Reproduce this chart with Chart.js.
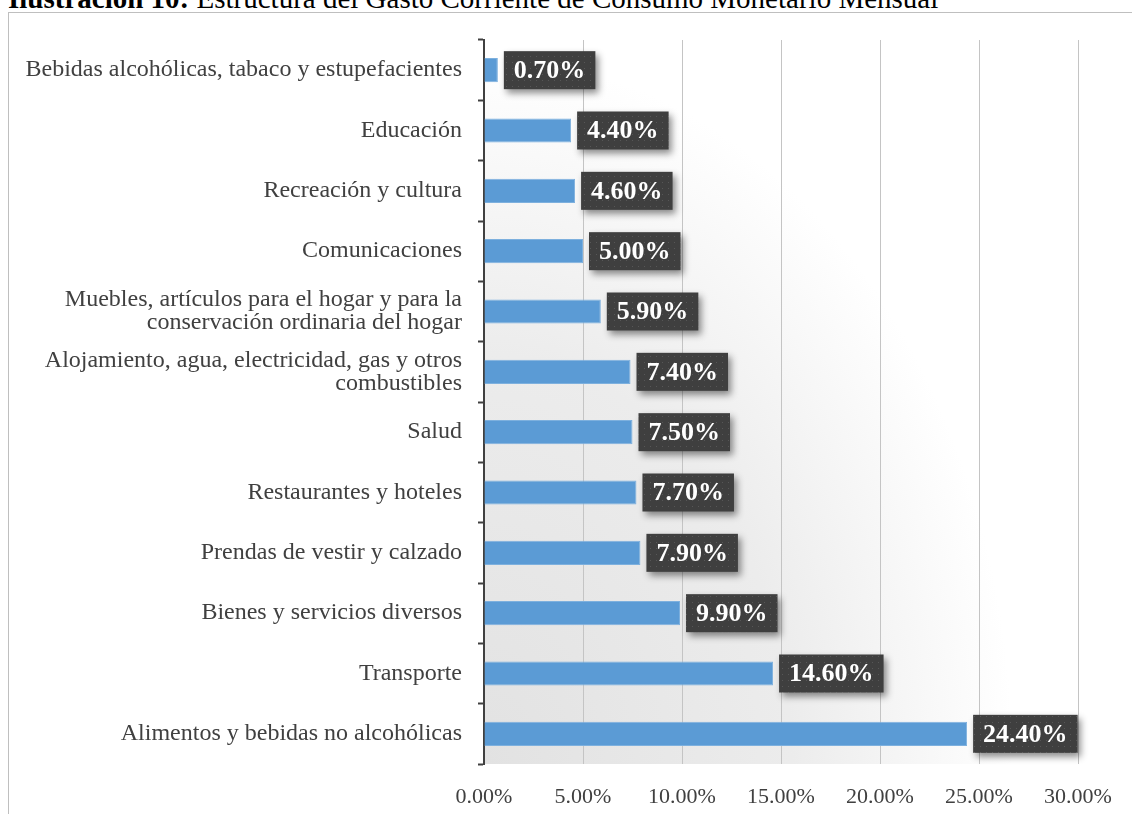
<!DOCTYPE html>
<html>
<head>
<meta charset="utf-8">
<script src="https://cdn.jsdelivr.net/npm/chart.js@4"></script>
<style>
  html, body { margin: 0; padding: 0; width: 1132px; height: 814px; overflow: hidden; background: #fff; }
  #title { position: absolute; left: 8px; top: -16px; font: 29px/29px "Liberation Serif", "Times New Roman", serif; color: #000; white-space: nowrap; }
  #frame { position: absolute; left: 8px; top: 12px; width: 1200px; height: 900px; border: 1px solid #BFBFBF; }
  #wrap { position: absolute; left: 0; top: 0; width: 1132px; height: 814px; }
</style>
</head>
<body>
<div id="title"><b>Ilustración 10:</b> Estructura del Gasto Corriente de Consumo Monetario Mensual</div>
<div id="frame"></div>
<div id="wrap"><canvas id="chart-bar"></canvas></div>
<script>
// Data
const categories = [
  'Bebidas alcohólicas, tabaco y estupefacientes',
  'Educación',
  'Recreación y cultura',
  'Comunicaciones',
  ['Muebles, artículos para el hogar y para la', 'conservación ordinaria del hogar'],
  ['Alojamiento, agua, electricidad, gas y otros', 'combustibles'],
  'Salud',
  'Restaurantes y hoteles',
  'Prendas de vestir y calzado',
  'Bienes y servicios diversos',
  'Transporte',
  'Alimentos y bebidas no alcohólicas'
];
const shares = [0.7, 4.4, 4.6, 5.0, 5.9, 7.4, 7.5, 7.7, 7.9, 9.9, 14.6, 24.4];
const xTicks = [0, 5, 10, 15, 20, 25, 30];

const serif = '"Liberation Serif", "Times New Roman", serif';
Chart.defaults.font.family = serif;

// plot background: grey glow from the lower left
const plotBackground = {
  id: 'plotBackground',
  beforeDraw(chart) {
    const { ctx, chartArea: a } = chart;
    ctx.save();
    ctx.beginPath();
    ctx.rect(a.left, a.top, a.right - a.left, a.bottom - a.top);
    ctx.clip();
    ctx.fillStyle = '#fff';
    ctx.fillRect(a.left, a.top, a.right - a.left, a.bottom - a.top);
    ctx.translate(a.left, a.bottom);
    ctx.scale(0.75, 1);
    const g = ctx.createRadialGradient(0, 0, 0, 0, 0, 820);
    g.addColorStop(0, '#E2E2E2');
    g.addColorStop(0.5, '#ECECEC');
    g.addColorStop(0.86, '#FFFFFF');
    ctx.fillStyle = g;
    ctx.fillRect(-100, -900, 1600, 1000);
    ctx.restore();
  }
};

// dark dotted boxes with the values
function makePattern(ctx) {
  const c = document.createElement('canvas');
  c.width = 6; c.height = 6;
  const p = c.getContext('2d');
  p.fillStyle = '#3F3F3F';
  p.fillRect(0, 0, 6, 6);
  p.fillStyle = '#575757';
  p.fillRect(2, 2, 1, 1);
  return ctx.createPattern(c, 'repeat');
}

const valueBoxes = {
  id: 'valueBoxes',
  afterDatasetsDraw(chart) {
    const { ctx } = chart;
    const pattern = makePattern(ctx);
    const meta = chart.getDatasetMeta(0);
    ctx.save();
    ctx.font = 'bold 26px ' + serif;
    meta.data.forEach((bar, i) => {
      const text = shares[i].toFixed(2) + '%';
      const w = ctx.measureText(text).width + 20;
      const h = 38;
      const x = bar.x + 6;
      const y = bar.y - h / 2;
      ctx.save();
      ctx.shadowColor = 'rgba(0,0,0,0.45)';
      ctx.shadowBlur = 7;
      ctx.shadowOffsetX = 3;
      ctx.shadowOffsetY = 4;
      ctx.fillStyle = pattern;
      ctx.fillRect(x, y, w, h);
      ctx.restore();
      ctx.fillStyle = '#fff';
      ctx.textAlign = 'center';
      ctx.textBaseline = 'middle';
      ctx.fillText(text, x + w / 2, bar.y + 1);
    });
    ctx.restore();
  }
};

new Chart(document.getElementById('chart-bar'), {
  type: 'bar',
  data: {
    labels: categories,
    datasets: [{
      data: shares,
      backgroundColor: '#5B9BD5',
      borderColor: '#7DB0DE',
      borderWidth: 1,
      categoryPercentage: 1,
      barPercentage: 0.4
    }]
  },
  options: {
    indexAxis: 'y',
    responsive: true,
    maintainAspectRatio: false,
    animation: false,
    layout: { padding: { top: 40, right: 54, left: 0, bottom: 0 } },
    plugins: { legend: { display: false }, tooltip: { enabled: false } },
    scales: {
      x: {
        min: 0,
        max: 30,
        afterBuildTicks: (s) => { s.ticks = xTicks.map(v => ({ value: v })); },
        afterFit: (s) => { s.height = 50; },
        grid: { color: '#C4C4C4', lineWidth: 1, drawTicks: false },
        border: { display: false },
        ticks: {
          padding: 20,
          color: '#404040',
          font: { size: 22 },
          callback: (v) => Number(v).toFixed(2) + '%'
        }
      },
      y: {
        afterFit: (s) => { s.width = 484; },
        grid: { drawOnChartArea: false, tickLength: 6, tickColor: '#404040', tickWidth: 2, offset: true },
        border: { color: '#404040', width: 2 },
        ticks: { padding: 16, color: '#404040', font: { size: 24, lineHeight: 0.96 } }
      }
    }
  },
  plugins: [plotBackground, valueBoxes]
});
</script>
</body>
</html>
